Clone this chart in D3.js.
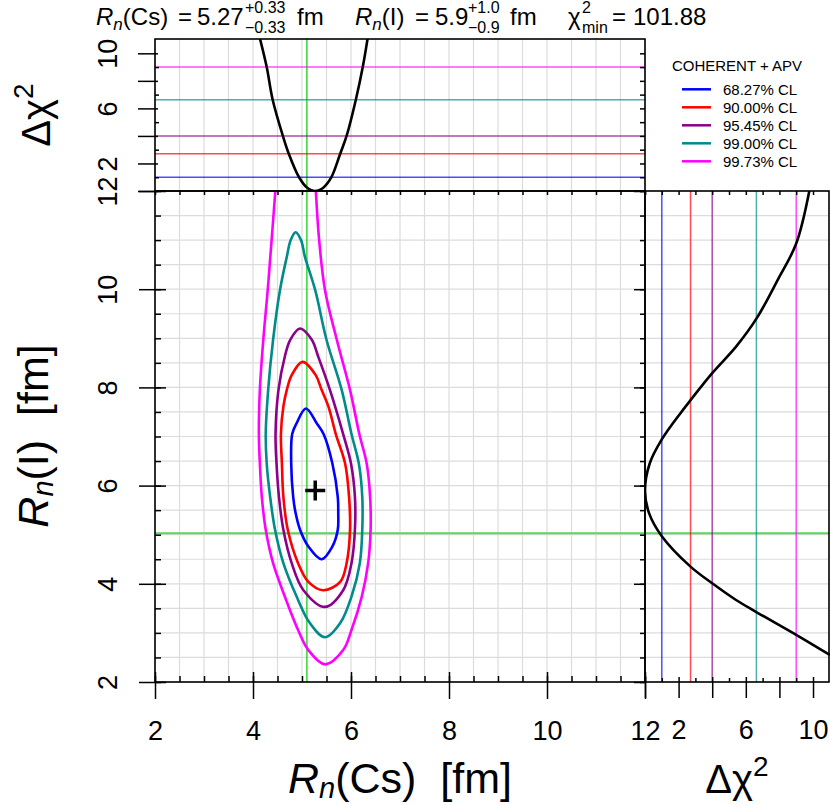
<!DOCTYPE html>
<html>
<head>
<meta charset="utf-8">
<script src="https://cdn.jsdelivr.net/npm/d3@7/dist/d3.min.js"></script>
<style>
  body { margin: 0; background: #fff; }
  text { font-family: "Liberation Sans", Arial, Helvetica, sans-serif; fill: #000; }
</style>
</head>
<body>
<svg id="chart" width="830" height="805"></svg>
<script>
// confidence levels
var clLabels = ['68.27% CL', '90.00% CL', '95.45% CL', '99.00% CL', '99.73% CL'];
var clColors = ['#0000ff', '#ff0000', '#8b008b', '#008b8b', '#ff00ff'];
// 1 dof delta chi2 for each level
var clDchi = [1.0, 2.71, 4.0, 6.63, 9.0];

// best fit [Rn(Cs), Rn(I)] with errors, and reference lines
var bestFit = [5.27, 5.9];
var errCs = [0.33, 0.33];
var errI = [1.0, 0.9];
var chi2min = 101.88;
var refCs = 5.10;
var refI = 5.03;

// 2D allowed regions, points [Rn(Cs), Rn(I)]
var contour68 = [[5.40, 4.50], [5.13, 4.76], [4.96, 5.10], [4.87, 5.44], [4.82, 5.77], [4.78, 6.45],
    [4.80, 7.05], [4.89, 7.27], [5.08, 7.57], [5.30, 7.27], [5.44, 7.05], [5.62, 6.45], [5.73, 5.77],
    [5.74, 5.44], [5.73, 5.10], [5.62, 4.76]];
var contour90 = [[5.43, 3.87], [5.13, 4.04], [4.92, 4.42], [4.71, 5.10], [4.62, 5.77], [4.59, 6.45],
    [4.57, 7.05], [4.62, 7.61], [4.69, 7.95], [4.79, 8.25], [5.01, 8.52], [5.28, 8.25], [5.40, 7.95],
    [5.54, 7.61], [5.69, 7.05], [5.88, 6.45], [5.96, 5.77], [5.98, 5.10], [5.91, 4.42], [5.78, 4.04]];
var contour95 = [[5.47, 3.53], [5.03, 3.87], [4.79, 4.42], [4.62, 5.10], [4.53, 5.77], [4.48, 6.45],
    [4.46, 7.05], [4.52, 7.95], [4.65, 8.63], [4.76, 8.97], [4.96, 9.20], [5.20, 8.97], [5.33, 8.63],
    [5.57, 7.95], [5.84, 7.05], [6.00, 6.45], [6.08, 5.77], [6.08, 5.10], [6.01, 4.42], [5.84, 3.87]];
var contour99 = [[5.47, 2.91], [5.16, 3.20], [4.89, 3.74], [4.62, 4.42], [4.45, 5.10], [4.35, 5.77],
    [4.28, 6.45], [4.26, 7.05], [4.31, 7.95], [4.41, 8.97], [4.55, 9.98], [4.69, 10.66], [4.77, 11.00],
    [4.87, 11.16], [4.98, 11.00], [5.06, 10.66], [5.27, 9.98], [5.50, 8.97], [5.81, 7.95], [6.01, 7.05],
    [6.16, 6.45], [6.23, 5.77], [6.23, 5.10], [6.18, 4.42], [6.01, 3.74], [5.78, 3.20]];
// the outer region leaves the plot at the top, so it is an open line
var contour997 = [[4.46, 12.05], [4.38, 11.00], [4.30, 9.98], [4.21, 8.97], [4.14, 7.95], [4.12, 7.05],
    [4.14, 6.45], [4.18, 5.77], [4.26, 5.10], [4.41, 4.42], [4.65, 3.74], [4.92, 3.06], [5.13, 2.65],
    [5.47, 2.36], [5.84, 2.65], [6.01, 3.06], [6.22, 3.74], [6.35, 4.42], [6.40, 5.10], [6.39, 5.77],
    [6.32, 6.45], [6.17, 7.05], [5.98, 7.95], [5.71, 8.97], [5.47, 9.98], [5.35, 11.00], [5.28, 12.05]];
var contours = [contour68, contour90, contour95, contour99, contour997];

// marginal profiles
var profileCs = [[4.14, 11.1], [4.28, 9.0], [4.40, 6.65], [4.61, 4.0], [4.73, 2.71], [4.94, 1.0],
    [5.10, 0.26], [5.27, 0], [5.44, 0.26], [5.60, 1.0], [5.78, 2.71], [5.91, 4.0], [6.10, 6.65],
    [6.24, 9.0], [6.34, 11.1]];   // [Rn(Cs), dchi2]
var profileI = [[12.0, 9.78], [10.93, 9.0], [10.19, 7.90], [9.41, 6.65], [8.83, 5.42],
    [8.29, 4.0], [7.74, 2.71], [7.47, 2.10], [6.94, 1.0], [6.45, 0.28], [5.9, 0], [5.44, 0.24],
    [4.97, 1.0], [4.35, 2.71], [4.01, 4.0], [3.67, 5.42], [3.42, 6.65], [2.96, 9.0], [2.55, 11.0]];  // [Rn(I), dchi2]

// ticks
var rnTicks = [2, 4, 6, 8, 10, 12];
var rnMinor = d3.range(2, 12.001, 0.5);
var chiTicks = [0, 2, 4, 6, 8, 10];
var chiMinor = [1, 3, 5, 7, 9];
var chiAll = d3.range(0, 11, 1);
var chiLabels = [2, 6, 10];

var svg = d3.select('#chart');

var x = d3.scaleLinear().domain([2, 12]).range([155, 645]);
var y = d3.scaleLinear().domain([2, 12]).range([682, 191]);
var chiTop = d3.scaleLinear().domain([0, 11.04]).range([191, 39]);
var chiRight = d3.scaleLinear().domain([0, 11.07]).range([645, 831]);

var defs = svg.append('defs');
function addClip(id, x0, y0, w, h) {
    defs.append('clipPath').attr('id', id)
        .append('rect').attr('x', x0).attr('y', y0).attr('width', w).attr('height', h);
}
addClip('clip-main', 155, 191, 490, 491);
addClip('clip-top', 155, 39, 490, 152);
addClip('clip-right', 645, 191, 185, 491);

// grid, every 0.5 fm
var grid = svg.append('g').attr('stroke', '#dcdcdc').attr('stroke-width', 1.2);
grid.selectAll('.gx').data(rnMinor).enter().append('line')
    .attr('x1', (d) => x(d)).attr('x2', (d) => x(d))
    .attr('y1', 39).attr('y2', 682);
grid.selectAll('.gy').data(rnMinor).enter().append('line')
    .attr('x1', 155).attr('x2', 829)
    .attr('y1', (d) => y(d)).attr('y2', (d) => y(d));

// reference lines
svg.append('line')
    .attr('x1', x(refCs)).attr('x2', x(refCs)).attr('y1', 39).attr('y2', 682)
    .attr('stroke', '#00cc00').attr('stroke-width', 1.2);
svg.append('line')
    .attr('x1', 155).attr('x2', 829).attr('y1', y(refI)).attr('y2', y(refI))
    .attr('stroke', '#5ad65a').attr('stroke-width', 2);

// 1 dof levels in the side panels
svg.append('g').selectAll('line').data(clDchi).enter().append('line')
    .attr('x1', 155).attr('x2', 645)
    .attr('y1', (d) => chiTop(d)).attr('y2', (d) => chiTop(d))
    .attr('stroke', (d, i) => clColors[i]).attr('stroke-opacity', 0.7).attr('stroke-width', 1.5);
svg.append('g').selectAll('line').data(clDchi).enter().append('line')
    .attr('x1', (d) => chiRight(d)).attr('x2', (d) => chiRight(d))
    .attr('y1', 191).attr('y2', 682)
    .attr('stroke', (d, i) => clColors[i]).attr('stroke-opacity', 0.7).attr('stroke-width', 1.5);

// contours
var closedLine = d3.line().x((d) => x(d[0])).y((d) => y(d[1])).curve(d3.curveCatmullRomClosed);
var openLine = d3.line().x((d) => x(d[0])).y((d) => y(d[1])).curve(d3.curveCatmullRom);
svg.append('g').attr('clip-path', 'url(#clip-main)')
    .selectAll('path').data(contours).enter().append('path')
    .attr('d', (d, i) => i == 4 ? openLine(d) : closedLine(d))
    .attr('fill', 'none')
    .attr('stroke', (d, i) => clColors[i])
    .attr('stroke-width', 2.6);

// best fit
var bx = x(bestFit[0]), by = y(bestFit[1]);
svg.append('path')
    .attr('d', `M${bx - 10},${by}H${bx + 10}M${bx},${by - 10}V${by + 10}`)
    .attr('stroke', '#000').attr('stroke-width', 3.5);

// profiles
svg.append('path').attr('clip-path', 'url(#clip-top)')
    .attr('d', d3.line().x((d) => x(d[0])).y((d) => chiTop(d[1])).curve(d3.curveCatmullRom)(profileCs))
    .attr('fill', 'none').attr('stroke', '#000').attr('stroke-width', 2.6);
svg.append('path').attr('clip-path', 'url(#clip-right)')
    .attr('d', d3.line().x((d) => chiRight(d[1])).y((d) => y(d[0])).curve(d3.curveCatmullRom)(profileI))
    .attr('fill', 'none').attr('stroke', '#000').attr('stroke-width', 2.6);

// frames
var frames = svg.append('g').attr('fill', 'none').attr('stroke', '#000').attr('stroke-width', 1.6);
frames.append('rect').attr('x', 155).attr('y', 191).attr('width', 490).attr('height', 491);
frames.append('rect').attr('x', 155).attr('y', 39).attr('width', 490).attr('height', 152);
frames.append('rect').attr('x', 645).attr('y', 191).attr('width', 184).attr('height', 491);

// axes
var TICK_FONT = 27;
function addAxis(gen, scale, values, size, transform, labels) {
    var g = svg.append('g')
        .attr('transform', transform)
        .call(gen(scale).tickValues(values).tickSize(size).tickPadding(22)
            .tickFormat((d) => labels && labels.indexOf(d) >= 0 ? d : ''));
    g.select('.domain').remove();
    g.attr('font-size', TICK_FONT).attr('font-family', null);
    g.selectAll('line').attr('stroke', '#000').attr('stroke-width', 1.5);
    return g;
}
function rotateLabels(g) {
    g.selectAll('text')
        .attr('transform', 'rotate(-90)')
        .attr('x', 0).attr('y', -38).attr('dy', 0)
        .attr('text-anchor', 'middle');
}

// main panel
addAxis(d3.axisBottom, x, rnMinor, -6, 'translate(0,682)');
addAxis(d3.axisBottom, x, rnTicks, -10, 'translate(0,682)');
addAxis(d3.axisBottom, x, rnTicks, 17, 'translate(0,682)', rnTicks);
addAxis(d3.axisLeft, y, rnMinor, -6, 'translate(155,0)');
addAxis(d3.axisLeft, y, rnTicks, -11, 'translate(155,0)');
rotateLabels(addAxis(d3.axisLeft, y, rnTicks, 16, 'translate(155,0)', rnTicks));
addAxis(d3.axisTop, x, rnMinor, -4, 'translate(0,191)');
addAxis(d3.axisRight, y, rnMinor, -5, 'translate(645,0)');
addAxis(d3.axisRight, y, rnTicks, -11, 'translate(645,0)');

// top panel
addAxis(d3.axisLeft, chiTop, chiMinor, -4, 'translate(155,0)');
addAxis(d3.axisLeft, chiTop, chiTicks, -3, 'translate(155,0)');
rotateLabels(addAxis(d3.axisLeft, chiTop, chiTicks, 17, 'translate(155,0)', chiLabels));
addAxis(d3.axisRight, chiTop, chiAll, -5, 'translate(645,0)');

// right panel
addAxis(d3.axisBottom, chiRight, chiMinor, -4, 'translate(0,682)');
addAxis(d3.axisBottom, chiRight, chiTicks, -5, 'translate(0,682)');
addAxis(d3.axisBottom, chiRight, chiTicks, 16, 'translate(0,682)', chiLabels);
addAxis(d3.axisTop, chiRight, chiAll, -4, 'translate(0,191)');

// axis titles
function rnLabel(parent, nucleus) {
    parent.append('tspan').attr('font-style', 'italic').text('R');
    parent.append('tspan').attr('font-style', 'italic').attr('font-size', 29).attr('dy', 5).text('n');
    parent.append('tspan').attr('dy', -5).text('(' + nucleus + ')\u00a0\u00a0[fm]');
}
function chiLabel(parent) {
    parent.append('tspan').text('\u0394\u03c7');
    parent.append('tspan').attr('font-size', 28).attr('dy', -17).text('2');
}
rnLabel(svg.append('text').attr('x', 400).attr('y', 793)
    .attr('text-anchor', 'middle').attr('font-size', 43), 'Cs');
rnLabel(svg.append('text').attr('transform', 'translate(48,436) rotate(-90)')
    .attr('text-anchor', 'middle').attr('font-size', 43), 'I');
chiLabel(svg.append('text').attr('x', 737).attr('y', 793)
    .attr('text-anchor', 'middle').attr('font-size', 40));
chiLabel(svg.append('text').attr('transform', 'translate(50,115) rotate(-90)')
    .attr('text-anchor', 'middle').attr('font-size', 40));

// title line
var title = svg.append('g').attr('font-size', 24);
function rnTitle(x0, nucleus) {
    var t = title.append('text').attr('x', x0).attr('y', 25);
    t.append('tspan').attr('font-style', 'italic').text('R');
    t.append('tspan').attr('font-style', 'italic').attr('font-size', 17).attr('dy', 5).text('n');
    t.append('tspan').attr('dy', -5).text('(' + nucleus + ')');
}
function script(x0, up, down) {
    title.append('text').attr('x', x0).attr('y', 13).attr('font-size', 16).text(up);
    title.append('text').attr('x', x0).attr('y', 33).attr('font-size', 16).text(down);
}
rnTitle(96, 'Cs');
title.append('text').attr('x', 178).attr('y', 25).text('=');
title.append('text').attr('x', 197).attr('y', 25).text(bestFit[0].toFixed(2));
script(245, '+' + errCs[0].toFixed(2), '\u2212' + errCs[1].toFixed(2));
title.append('text').attr('x', 297).attr('y', 25).text('fm');

rnTitle(355, 'I');
title.append('text').attr('x', 415).attr('y', 25).text('=');
title.append('text').attr('x', 435).attr('y', 25).text(bestFit[1].toFixed(1));
script(468, '+' + errI[0].toFixed(1), '\u2212' + errI[1].toFixed(1));
title.append('text').attr('x', 510).attr('y', 25).text('fm');

title.append('text').attr('x', 568).attr('y', 25).text('\u03c7');
script(582, '2', 'min');
title.append('text').attr('x', 612).attr('y', 25).text('=');
title.append('text').attr('x', 633).attr('y', 25).text(chi2min.toFixed(2));

// legend
var legend = svg.append('g').attr('font-size', 15);
legend.append('text').attr('x', 737).attr('y', 70.5).attr('text-anchor', 'middle').text('COHERENT + APV');
var rows = legend.selectAll('.row').data(clLabels).enter().append('g')
    .attr('transform', (d, i) => `translate(0,${89.3 + i * 18})`);
rows.append('line').attr('x1', 682).attr('x2', 711)
    .attr('stroke', (d, i) => clColors[i]).attr('stroke-width', 2.5);
rows.append('text').attr('x', 723).attr('y', 5.2).text((d) => d);
</script>
</body>
</html>
